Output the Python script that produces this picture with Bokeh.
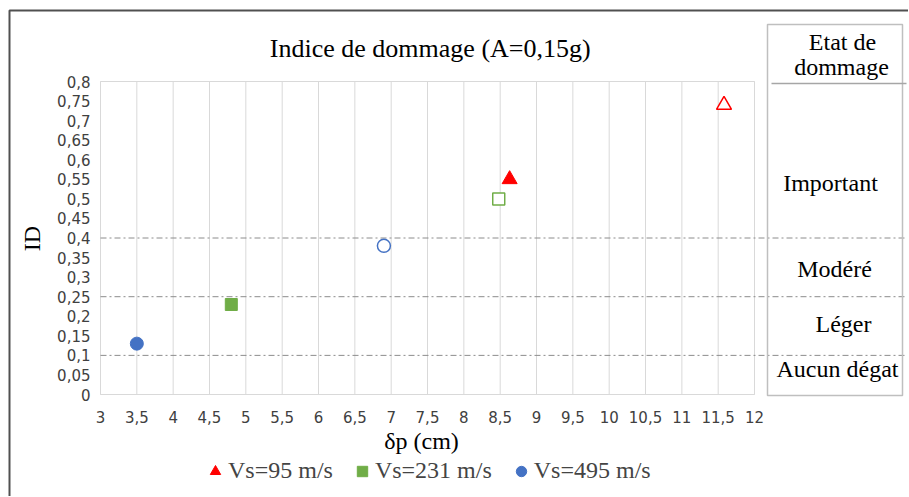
import math
from bokeh.plotting import figure
from bokeh.models import (Range1d, FixedTicker, CustomJSTickFormatter, Legend,
                          LegendItem)
from bokeh.core.properties import value
from bokeh.embed import file_html
from bokeh.resources import INLINE

# ---------------- data ----------------
title_text = "Indice de dommage  (A=0,15g)"
x_label = "δp  (cm)"
y_label = "ID"

series_names = ["Vs=95 m/s", "Vs=231 m/s", "Vs=495 m/s"]
series_colors = ["#FF0000", "#70AD47", "#4472C4"]
series_markers = ["triangle", "square", "circle"]

# filled markers (first point of each series)
filled_x = [8.63, 4.80, 3.50]
filled_y = [0.55, 0.23, 0.13]
# open markers (second point of each series)
open_x = [11.58, 8.48, 6.90]
open_y = [0.74, 0.50, 0.38]

x_ticks = [3, 3.5, 4, 4.5, 5, 5.5, 6, 6.5, 7, 7.5, 8, 8.5, 9, 9.5, 10, 10.5, 11, 11.5, 12]
y_ticks = [0, 0.05, 0.1, 0.15, 0.2, 0.25, 0.3, 0.35, 0.4, 0.45, 0.5, 0.55, 0.6,
           0.65, 0.7, 0.75, 0.8]

thresholds = [0.1, 0.25, 0.4]
state_labels = ["Aucun dégat", "Léger", "Modéré", "Important"]
panel_header = ["Etat de", "dommage"]

# ---------------- layout (pixels) ----------------
W, H = 908, 496
X3_PIX = 100          # pixel column of x = 3
PX_X = 72.67          # pixels per x unit
Y0_PIX = 394          # pixel row of y = 0
PX_Y = 391.25         # pixels per y unit


def dx(px):
    return 3 + (px - X3_PIX) / PX_X


def dy(py):
    return (Y0_PIX - py) / PX_Y


SERIF = "Liberation Serif"
SANS = "DejaVu Sans"

p = figure(width=W, height=H, output_backend="svg", toolbar_location=None,
           x_range=Range1d(dx(0), dx(W)), y_range=Range1d(dy(H), dy(0)),
           min_border_left=0, min_border_right=0, min_border_top=0,
           min_border_bottom=0)
p.outline_line_color = None
p.xgrid.visible = False
p.ygrid.visible = False
p.background_fill_color = "white"
p.border_fill_color = "white"

fmt = CustomJSTickFormatter(code="""
    var s = tick.toFixed(2).replace(/0+$/, '').replace(/\\.$/, '');
    return s.replace('.', ',');
""")

for ax, ticks in ((p.xaxis[0], x_ticks), (p.yaxis[0], y_ticks)):
    ax.ticker = FixedTicker(ticks=ticks)
    ax.formatter = fmt
    ax.axis_line_color = None
    ax.major_tick_line_color = None
    ax.minor_tick_line_color = None
    ax.major_label_text_font = SANS
    ax.major_label_text_font_size = "15px"
    ax.major_label_text_color = "#404040"
p.xaxis.fixed_location = dy(396)
p.yaxis.fixed_location = x_ticks[0]
p.xaxis.major_label_standoff = 8
p.yaxis.major_label_standoff = 4

# outer chart frame
p.quad(left=dx(9), right=dx(W + 30), top=dy(10), bottom=dy(H + 30),
       fill_color=None, line_color="#505050", line_width=2)

# plot-area gridlines and border
p.segment(x0=x_ticks, y0=y_ticks[0], x1=x_ticks, y1=y_ticks[-1],
          line_color="#D9D9D9", line_width=1)
p.quad(left=x_ticks[0], right=x_ticks[-1], bottom=y_ticks[0], top=y_ticks[-1],
       fill_color=None, line_color="#D9D9D9", line_width=1)

# damage-state threshold lines
p.segment(x0=x_ticks[0], y0=thresholds, x1=dx(906), y1=thresholds,
          line_color="#8C8C8C", line_width=1, line_dash="6 3 2 3")

# side panel
p.quad(left=dx(767), right=dx(902), bottom=dy(395), top=dy(24),
       fill_color=None, line_color="#BFBFBF", line_width=1.5)
p.segment(x0=dx(771), y0=dy(83), x1=dx(906), y1=dy(83),
          line_color="#A6A6A6", line_width=1.5)
p.text(x=[dx(842), dx(841)], y=[dy(41), dy(66)], text=panel_header,
       text_font=value(SERIF), text_font_size="24px", text_align="center",
       text_baseline="middle", text_color="#000000")
p.text(x=[dx(837), dx(843), dx(834), dx(830)], y=[dy(368), dy(323), dy(268), dy(182)],
       text=state_labels, text_font=value(SERIF), text_font_size="24px",
       text_align="center", text_baseline="middle", text_color="#000000")

# chart title and axis titles
p.text(x=[dx(433)], y=[dy(48)], text=[title_text], text_font=value(SERIF),
       text_font_size="26px", text_align="center", text_baseline="middle",
       text_color="#000000")
p.text(x=[dx(424)], y=[dy(440)], text=[x_label], text_font=value(SERIF),
       text_font_size="24px", text_align="center", text_baseline="middle",
       text_color="#000000")
p.text(x=[dx(31)], y=[dy(238)], text=[y_label], angle=math.pi / 2,
       text_font=value(SERIF), text_font_size="24px", text_align="center",
       text_baseline="middle", text_color="#000000")

# data points
items = []
sizes = {"triangle": 15, "square": 12, "circle": 13}
for name, c, m, fx, fy, ox, oy in zip(series_names, series_colors, series_markers,
                                      filled_x, filled_y, open_x, open_y):
    p.scatter(x=[ox], y=[oy], marker=m, size=sizes[m], fill_color="white",
              line_color=c, line_width=1.5)
    r = p.scatter(x=[fx], y=[fy], marker=m, size=sizes[m], fill_color=c,
                  line_color=c)
    items.append(LegendItem(label=name, renderers=[r]))

legend = Legend(items=items, orientation="horizontal", location=(202, 12),
                label_text_font=SERIF, label_text_font_size="24px",
                glyph_width=26, glyph_height=26, label_standoff=0, spacing=16,
                padding=0, margin=0, border_line_color=None,
                background_fill_alpha=0)
p.add_layout(legend, "center")

open("out.html", "w").write(file_html(p, INLINE))
